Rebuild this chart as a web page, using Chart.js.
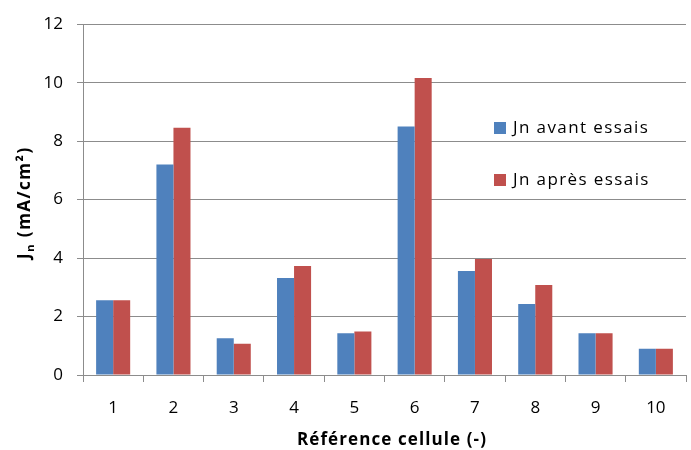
<!DOCTYPE html>
<html>
<head>
<meta charset="utf-8">
<script src="https://cdn.jsdelivr.net/npm/chart.js@4/dist/chart.umd.min.js"></script>
<style>
  html, body { margin: 0; padding: 0; background: #fff; }
  #wrap { width: 691px; height: 450px; }
</style>
</head>
<body>
<div id="wrap"><canvas id="c" width="691" height="450"></canvas></div>
<script>
// données
const categories = ['1', '2', '3', '4', '5', '6', '7', '8', '9', '10'];
const avantEssais = [2.56, 7.20, 1.26, 3.32, 1.43, 8.50, 3.56, 2.43, 1.43, 0.90];
const apresEssais = [2.56, 8.46, 1.07, 3.73, 1.49, 10.16, 3.97, 3.08, 1.43, 0.90];
const seriesNames = ['Jn avant essais', 'Jn après essais'];
const xTitle = 'Référence cellule (-)';
const yMin = 0, yMax = 12, yStep = 2;

const FONT = '"Open Sans", sans-serif';
const GRID = '#8c8c8c';

// titres d'axes (J avec indice n) + légende dans la zone de tracé
const extras = {
  id: 'extras',
  afterDraw(chart) {
    const ctx = chart.ctx, a = chart.chartArea;
    ctx.save();
    ctx.fillStyle = '#000';
    ctx.textBaseline = 'alphabetic';
    ctx.letterSpacing = '1.5px';
    // titre axe Y
    const parts = [['J', 'bold 17px ' + FONT, 0], ['n', 'bold 11px ' + FONT, 4], [' (mA/cm²)', 'bold 17px ' + FONT, 0]];
    const w = parts.map(p => { ctx.font = p[1]; return ctx.measureText(p[0]).width; });
    const tot = w.reduce((s, v) => s + v, 0);
    ctx.translate(30, (a.top + a.bottom) / 2 + 3);
    ctx.rotate(-Math.PI / 2);
    let x = -tot / 2;
    parts.forEach((p, i) => { ctx.font = p[1]; ctx.fillText(p[0], x, p[2]); x += w[i]; });
    ctx.restore();

    // titre axe X
    ctx.save();
    ctx.fillStyle = '#000';
    ctx.letterSpacing = '1.1px';
    ctx.font = 'bold 17px ' + FONT;
    ctx.textAlign = 'center';
    ctx.textBaseline = 'middle';
    ctx.fillText(xTitle, 392, 440);
    ctx.restore();

    // légende
    ctx.save();
    ctx.letterSpacing = '1.4px';
    ctx.font = '17px ' + FONT;
    ctx.textBaseline = 'middle';
    chart.data.datasets.forEach((ds, i) => {
      const cy = 128 + i * 52;
      ctx.fillStyle = ds.backgroundColor;
      ctx.fillRect(494, cy - 6, 12, 12);
      ctx.fillStyle = '#000';
      ctx.fillText(ds.label, 513, cy);
    });
    ctx.restore();
  }
};

new Chart(document.getElementById('c'), {
  type: 'bar',
  data: {
    labels: categories,
    datasets: [
      { label: seriesNames[0], data: avantEssais, backgroundColor: '#4F81BD' },
      { label: seriesNames[1], data: apresEssais, backgroundColor: '#C0504D' }
    ]
  },
  options: {
    responsive: false,
    animation: false,
    categoryPercentage: 0.565,
    barPercentage: 1,
    layout: { padding: { top: 23, right: 5, left: 0, bottom: 0 } },
    plugins: { legend: { display: false }, tooltip: { enabled: false } },
    scales: {
      x: {
        afterFit: s => { s.height = 75; },
        grid: { offset: true, drawOnChartArea: false, tickLength: 7, color: GRID },
        border: { color: GRID, width: 1 },
        ticks: { color: '#000', font: { family: FONT, size: 17 }, padding: 16, maxRotation: 0 }
      },
      y: {
        min: yMin, max: yMax,
        afterFit: s => { s.width = 83; },
        grid: { color: GRID, tickLength: 6 },
        border: { color: GRID, width: 1 },
        ticks: { stepSize: yStep, color: '#000', font: { family: FONT, size: 17 }, padding: 14 }
      }
    }
  },
  plugins: [extras]
});
</script>
</body>
</html>
